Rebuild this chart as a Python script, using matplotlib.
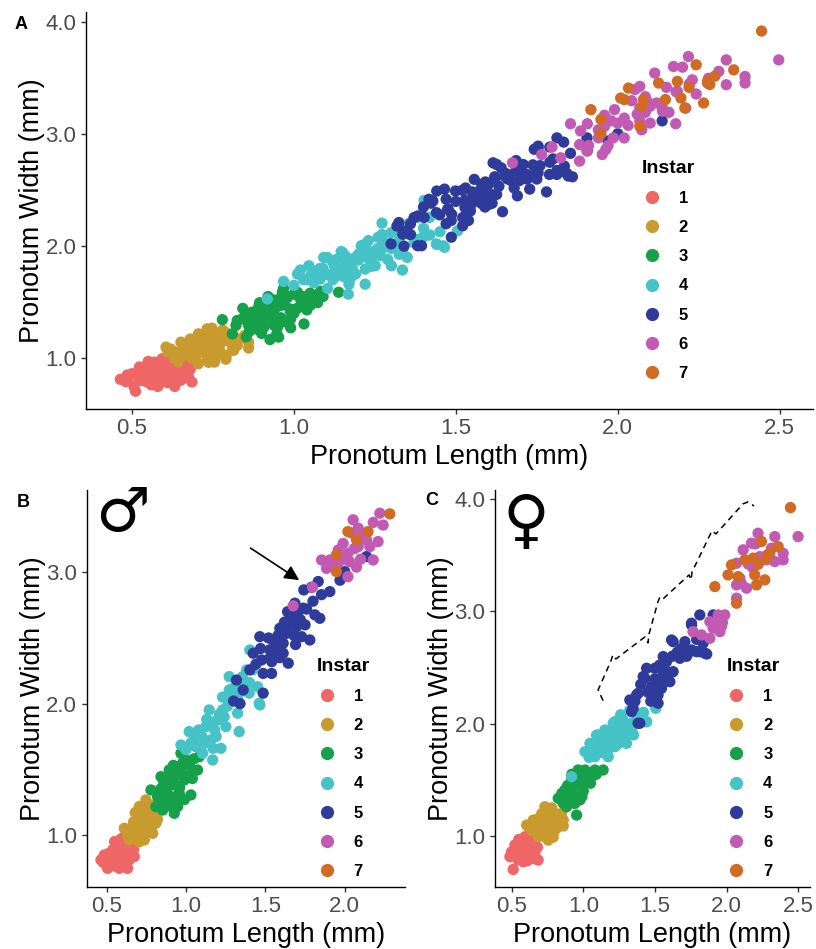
import matplotlib
matplotlib.use('Agg')
import matplotlib.pyplot as plt
from matplotlib.lines import Line2D
import numpy as np

plt.rcParams['font.family'] = ['Liberation Sans', 'DejaVu Sans']

# instar labels and colours
instars = ['1', '2', '3', '4', '5', '6', '7']
colors = ['#EE6666', '#C99A2E', '#16A049', '#46C3C6', '#2E3B9B', '#C25AB4', '#D16A22']

# males (panel B), (length, width) in mm
male_1 = [(0.464, 0.81), (0.516, 0.861), (0.506, 0.746), (0.559, 0.81), (0.58, 0.746), (0.632, 0.746),
          (0.622, 0.861), (0.569, 0.911), (0.611, 0.987), (0.664, 0.911), (0.674, 0.835), (0.642, 0.81),
          (0.538, 0.886), (0.601, 0.937), (0.485, 0.848), (0.59, 0.785), (0.685, 0.949), (0.55, 0.84),
          (0.60, 0.83), (0.64, 0.88), (0.53, 0.80), (0.57, 0.87), (0.62, 0.79), (0.66, 0.97),
          (0.48, 0.79), (0.52, 0.83), (0.56, 0.76), (0.58, 0.89), (0.61, 0.84), (0.63, 0.93),
          (0.65, 0.85), (0.55, 0.95), (0.59, 0.97), (0.67, 0.89)]
male_2 = [(0.611, 1.051), (0.653, 1.013), (0.705, 0.949), (0.685, 1.063), (0.737, 1.038), (0.79, 1.013),
          (0.716, 1.139), (0.768, 1.114), (0.81, 1.089), (0.705, 1.216), (0.747, 1.267), (0.79, 1.228),
          (0.81, 1.165), (0.642, 0.962), (0.758, 1.177), (0.737, 0.962), (0.67, 1.10), (0.72, 1.07),
          (0.76, 1.02), (0.69, 1.00), (0.78, 1.15), (0.73, 1.20), (0.63, 1.00), (0.66, 1.06),
          (0.70, 1.05), (0.71, 1.16), (0.74, 1.10), (0.77, 1.08), (0.80, 1.19), (0.68, 1.17),
          (0.75, 1.23), (0.82, 1.12)]
male_3 = [(0.779, 1.343), (0.821, 1.292), (0.842, 1.444), (0.873, 1.368), (0.863, 1.241), (0.905, 1.267),
          (0.926, 1.165), (0.916, 1.419), (0.936, 1.52), (0.968, 1.622), (0.957, 1.318), (0.989, 1.419),
          (1.031, 1.305), (1.0, 1.571), (1.042, 1.495), (1.073, 1.495), (1.083, 1.596), (0.894, 1.495),
          (0.853, 1.19), (0.81, 1.216), (0.947, 1.216), (1.01, 1.444), (0.88, 1.33), (0.93, 1.38),
          (0.97, 1.48), (1.02, 1.53), (0.90, 1.22), (0.95, 1.28), (0.84, 1.35), (0.87, 1.30),
          (0.89, 1.42), (0.91, 1.29), (0.93, 1.45), (0.96, 1.36), (0.98, 1.55), (1.04, 1.43),
          (0.99, 1.27), (0.92, 1.53), (1.05, 1.58), (0.86, 1.40)]
male_4 = [(0.968, 1.685), (1.02, 1.787), (1.062, 1.672), (1.083, 1.749), (1.125, 1.825), (1.104, 1.622),
          (1.157, 1.724), (1.168, 1.571), (1.199, 1.876), (1.22, 1.66), (1.146, 1.952), (1.23, 1.952),
          (1.251, 1.825), (1.272, 2.104), (1.293, 2.028), (1.325, 1.927), (1.335, 1.787), (1.272, 2.206),
          (1.356, 2.206), (1.398, 2.08), (1.419, 2.257), (1.461, 2.003), (1.451, 2.129), (1.325, 2.053),
          (1.402, 2.409), (1.382, 2.257), (1.465, 1.99), (1.05, 1.73), (1.18, 1.80), (1.21, 1.92),
          (1.26, 1.98), (1.12, 1.70), (1.30, 2.12), (1.00, 1.65), (1.03, 1.70), (1.08, 1.80),
          (1.10, 1.75), (1.13, 1.88), (1.16, 1.86), (1.19, 1.75), (1.24, 1.90), (1.28, 2.03),
          (1.33, 2.15), (1.36, 2.10), (1.40, 2.16), (1.23, 2.05), (1.17, 1.66)]
male_5 = [(1.742, 2.866), (1.79, 2.886), (1.833, 2.93), (1.854, 2.83), (1.906, 2.853), (1.97, 2.94),
          (1.686, 2.765), (1.738, 2.727), (1.812, 2.676), (1.843, 2.65), (1.654, 2.65), (1.591, 2.574),
          (1.633, 2.536), (1.696, 2.586), (1.728, 2.51), (1.78, 2.485), (1.55, 2.485), (1.612, 2.46),
          (1.465, 2.51), (1.528, 2.41), (1.644, 2.308), (1.612, 2.384), (1.423, 2.384), (1.476, 2.333),
          (1.528, 2.346), (1.486, 2.23), (1.539, 2.23), (1.402, 2.257), (1.486, 2.08), (1.36, 2.104),
          (1.318, 2.18), (2.0, 3.005), (2.137, 3.12), (1.66, 2.60), (1.70, 2.68), (1.58, 2.52),
          (1.62, 2.62), (1.75, 2.60), (1.57, 2.40), (1.30, 2.02), (1.34, 2.00), (1.44, 2.30),
          (1.47, 2.42), (1.52, 2.50), (1.56, 2.44), (1.60, 2.55), (1.64, 2.70), (1.68, 2.52),
          (1.72, 2.64), (1.76, 2.72), (1.69, 2.45), (1.59, 2.35), (1.54, 2.32), (1.80, 2.78)]
male_6 = [(1.854, 3.094), (1.906, 3.094), (1.959, 3.07), (1.885, 3.03), (1.98, 3.12), (2.02, 3.145),
          (2.032, 3.08), (2.074, 3.04), (2.02, 2.967), (2.085, 3.196), (2.095, 3.27), (2.043, 3.30),
          (2.085, 3.336), (2.137, 3.247), (2.158, 3.196), (2.21, 3.234), (2.179, 3.094), (2.053, 3.40),
          (2.221, 3.45), (2.242, 3.36), (1.99, 3.22), (1.959, 3.17), (1.797, 2.886), (1.675, 2.745),
          (2.00, 3.10), (2.06, 3.18), (2.12, 3.28), (2.18, 3.38), (1.94, 3.04), (2.10, 3.10)]
male_7 = [(2.284, 3.445), (2.02, 3.31), (2.147, 3.31), (2.074, 3.247), (1.948, 3.133), (1.948, 3.005)]

# females (panel C)
female_1 = [(0.511, 0.703), (0.488, 0.816), (0.523, 0.92), (0.57, 0.964), (0.558, 0.846), (0.605, 0.875),
            (0.616, 0.801), (0.662, 0.846), (0.674, 0.905), (0.639, 0.935), (0.593, 0.994), (0.546, 0.786),
            (0.685, 0.786), (0.628, 0.994), (0.581, 0.771), (0.54, 0.88), (0.60, 0.93), (0.65, 0.80),
            (0.57, 0.82), (0.50, 0.86), (0.53, 0.83), (0.56, 0.90), (0.59, 0.84), (0.62, 0.88),
            (0.64, 0.96), (0.66, 0.82), (0.61, 0.78), (0.55, 0.97), (0.68, 0.90)]
female_2 = [(0.605, 1.098), (0.651, 1.142), (0.709, 1.083), (0.685, 0.994), (0.732, 0.994), (0.755, 1.083),
            (0.79, 1.024), (0.825, 1.113), (0.86, 1.142), (0.732, 1.261), (0.767, 1.202), (0.802, 1.202),
            (0.848, 1.202), (0.72, 1.172), (0.639, 1.053), (0.755, 0.964), (0.814, 1.069), (0.69, 1.12),
            (0.74, 1.13), (0.78, 1.25), (0.62, 1.08), (0.66, 1.10), (0.70, 1.03), (0.71, 1.20),
            (0.75, 1.16), (0.77, 1.06), (0.80, 1.15), (0.83, 1.17), (0.86, 1.09), (0.73, 1.05),
            (0.68, 1.15), (0.79, 0.99)]
female_3 = [(0.825, 1.336), (0.871, 1.41), (0.86, 1.291), (0.918, 1.499), (0.964, 1.588), (0.929, 1.365),
            (0.988, 1.439), (0.976, 1.321), (1.023, 1.499), (1.057, 1.528), (1.081, 1.588), (1.138, 1.588),
            (0.953, 1.187), (0.883, 1.261), (1.011, 1.588), (0.941, 1.439), (0.90, 1.36), (1.00, 1.40),
            (0.95, 1.52), (0.85, 1.38), (0.88, 1.33), (0.89, 1.45), (0.92, 1.42), (0.94, 1.29),
            (0.96, 1.47), (0.98, 1.54), (1.03, 1.55), (1.05, 1.47), (1.09, 1.55), (0.92, 1.55),
            (0.99, 1.35)]
female_4 = [(1.011, 1.751), (1.046, 1.825), (1.103, 1.899), (1.081, 1.706), (1.127, 1.766), (1.173, 1.855),
            (1.208, 2.004), (1.22, 1.795), (1.267, 1.915), (1.301, 1.825), (1.278, 2.033), (1.336, 1.944),
            (1.173, 1.706), (0.918, 1.528), (1.15, 1.944), (1.232, 1.884), (1.406, 2.093), (1.441, 2.018),
            (1.371, 2.033), (1.324, 2.122), (1.092, 1.899), (1.22, 2.018), (1.505, 2.137), (1.44, 2.018),
            (1.06, 1.78), (1.15, 1.80), (1.19, 1.90), (1.25, 1.96), (1.30, 1.98), (1.04, 1.70),
            (1.09, 1.80), (1.12, 1.86), (1.14, 1.74), (1.18, 1.78), (1.20, 1.93), (1.24, 1.82),
            (1.27, 1.97), (1.29, 1.88), (1.33, 2.00), (1.35, 1.90), (1.38, 2.06), (1.10, 1.75),
            (1.16, 1.91), (1.26, 2.08), (1.42, 2.10)]
female_5 = [(1.371, 2.256), (1.429, 2.404), (1.499, 2.493), (1.557, 2.434), (1.58, 2.552), (1.545, 2.315),
            (1.487, 2.285), (1.626, 2.73), (1.685, 2.671), (1.708, 2.73), (1.743, 2.641), (1.789, 2.641),
            (1.847, 2.627), (1.673, 2.582), (1.754, 2.894), (1.812, 2.968), (1.905, 2.968), (1.626, 2.463),
            (1.441, 2.493), (1.521, 2.256), (1.347, 2.137), (1.603, 2.374), (1.382, 2.27), (1.475, 2.33),
            (1.521, 2.182), (1.382, 2.004), (1.336, 2.107), (1.545, 2.36), (1.417, 2.419), (1.324, 2.211),
            (1.394, 2.004), (1.557, 2.597), (1.65, 2.627), (1.754, 2.656), (1.812, 2.641), (1.835, 2.716),
            (1.754, 2.879), (1.615, 2.745), (1.40, 2.35), (1.45, 2.28), (1.50, 2.40), (1.53, 2.52),
            (1.56, 2.48), (1.59, 2.46), (1.62, 2.60), (1.66, 2.64), (1.70, 2.66), (1.72, 2.60),
            (1.79, 2.75), (1.86, 2.62), (1.47, 2.20), (1.36, 2.20), (1.58, 2.38)]
female_6 = [(1.882, 2.908), (1.94, 2.968), (1.986, 2.968), (1.905, 2.85), (1.963, 2.864), (1.882, 2.76),
            (1.824, 2.79), (1.765, 2.819), (1.952, 2.819), (2.068, 3.117), (2.218, 3.695), (2.335, 3.665),
            (2.497, 3.665), (2.114, 3.547), (2.172, 3.606), (2.312, 3.562), (2.393, 3.517), (2.23, 3.487),
            (2.068, 3.428), (2.184, 3.384), (2.277, 3.458), (2.335, 3.443), (2.393, 3.458), (2.091, 3.295),
            (2.138, 3.206), (2.068, 3.235), (2.20, 3.60), (2.28, 3.50), (2.15, 3.42), (2.10, 3.25),
            (1.91, 2.90), (1.97, 2.90)]
female_7 = [(2.444, 3.923), (2.242, 3.621), (2.358, 3.576), (2.033, 3.413), (2.126, 3.458), (2.184, 3.473),
            (2.009, 3.324), (2.195, 3.324), (2.277, 3.473), (2.207, 3.235), (2.265, 3.28), (1.917, 3.22),
            (2.068, 3.072), (2.079, 3.309), (2.30, 3.52), (2.22, 3.42)]

male = [male_1, male_2, male_3, male_4, male_5, male_6, male_7]
female = [female_1, female_2, female_3, female_4, female_5, female_6, female_7]
both = [m + f for m, f in zip(male, female)]

# dashed brace in panel C (data coords)
bracket_x = [1.138, 1.103, 1.192, 1.206, 1.227, 1.429, 1.451, 1.458, 1.520, 1.534, 1.555,
             1.737, 1.751, 1.758, 1.883, 1.897, 1.925, 2.113, 2.148, 2.190]
bracket_y = [2.205, 2.300, 2.558, 2.612, 2.576, 2.772, 2.719, 2.799, 3.084, 3.128, 3.110,
             3.324, 3.280, 3.351, 3.680, 3.716, 3.689, 3.956, 3.974, 3.938]

TICK_GREY = '#4D4D4D'


def draw_panel(ax, groups, xlim, ylim, xticks, yticks, legend_anchor):
    for pts, col in zip(groups, colors):
        arr = np.array(pts)
        ax.scatter(arr[:, 0], arr[:, 1], s=66, color=col, edgecolors='none', zorder=3)
    ax.set_xlim(*xlim)
    ax.set_ylim(*ylim)
    ax.set_xticks(xticks)
    ax.set_yticks(yticks)
    ax.set_xticklabels([f'{t:.1f}' for t in xticks])
    ax.set_yticklabels([f'{t:.1f}' for t in yticks])
    for side in ['top', 'right']:
        ax.spines[side].set_visible(False)
    for side in ['left', 'bottom']:
        ax.spines[side].set_linewidth(1.0)
        ax.spines[side].set_color('black')
    ax.tick_params(direction='out', length=3.5, width=1.0, color='#333333',
                   labelsize=16, labelcolor=TICK_GREY)
    ax.tick_params(axis='x', pad=3)
    ax.tick_params(axis='y', pad=3.5)
    ax.set_xlabel('Pronotum Length (mm)', fontsize=19.5, labelpad=4)
    ax.set_ylabel('Pronotum Width (mm)', fontsize=19.5, labelpad=0)
    handles = [Line2D([], [], marker='o', ls='', color=c, markersize=9.5, markeredgewidth=0)
               for c in colors]
    ax.legend(handles, instars, title='Instar', loc='upper left', bbox_to_anchor=legend_anchor,
              frameon=False, prop={'weight': 'bold', 'size': 12},
              title_fontproperties={'weight': 'bold', 'size': 14}, alignment='left',
              labelspacing=0.85, handletextpad=1.0, handlelength=1.2, borderpad=0,
              borderaxespad=0)


fig = plt.figure(figsize=(8.16, 9.49), dpi=100)
ax_a = fig.add_axes([0.1054, 0.5693, 0.8906, 0.4177])
ax_b = fig.add_axes([0.1062, 0.0656, 0.3898, 0.4181])
ax_c = fig.add_axes([0.6066, 0.0656, 0.3860, 0.4181])

draw_panel(ax_a, both, (0.358, 2.602), (0.547, 4.09), [0.5, 1.0, 1.5, 2.0, 2.5],
           [1.0, 2.0, 3.0, 4.0], (0.765, 0.628))
draw_panel(ax_b, male, (0.374, 2.378), (0.606, 3.627), [0.5, 1.0, 1.5, 2.0],
           [1.0, 2.0, 3.0], (0.724, 0.577))
draw_panel(ax_c, female, (0.384, 2.58), (0.549, 4.08), [0.5, 1.0, 1.5, 2.0, 2.5],
           [1.0, 2.0, 3.0, 4.0], (0.735, 0.577))

# arrow in B, brace in C
ax_b.annotate('', xy=(1.728, 2.929), xytext=(1.392, 3.196),
              arrowprops=dict(arrowstyle='-|>', color='black', lw=1.2, mutation_scale=22))
ax_c.plot(bracket_x, bracket_y, ls=(0, (4, 3)), color='black', lw=1.1)

# panel letters and sex symbols
fig.text(15 / 816, 1 - 29 / 949, 'A', fontsize=13, fontweight='bold')
fig.text(17 / 816, 1 - 507 / 949, 'B', fontsize=13, fontweight='bold')
fig.text(425 / 816, 1 - 505 / 949, 'C', fontsize=13, fontweight='bold')
fig.text(123 / 816, 1 - 514 / 949, '\u2642', fontsize=44, fontweight='bold',
         family='DejaVu Sans', ha='center', va='center')
fig.text(526 / 816, 1 - 523 / 949, '\u2640', fontsize=46, fontweight='bold',
         family='DejaVu Sans', ha='center', va='center')

fig.savefig('out.png', dpi=100)
